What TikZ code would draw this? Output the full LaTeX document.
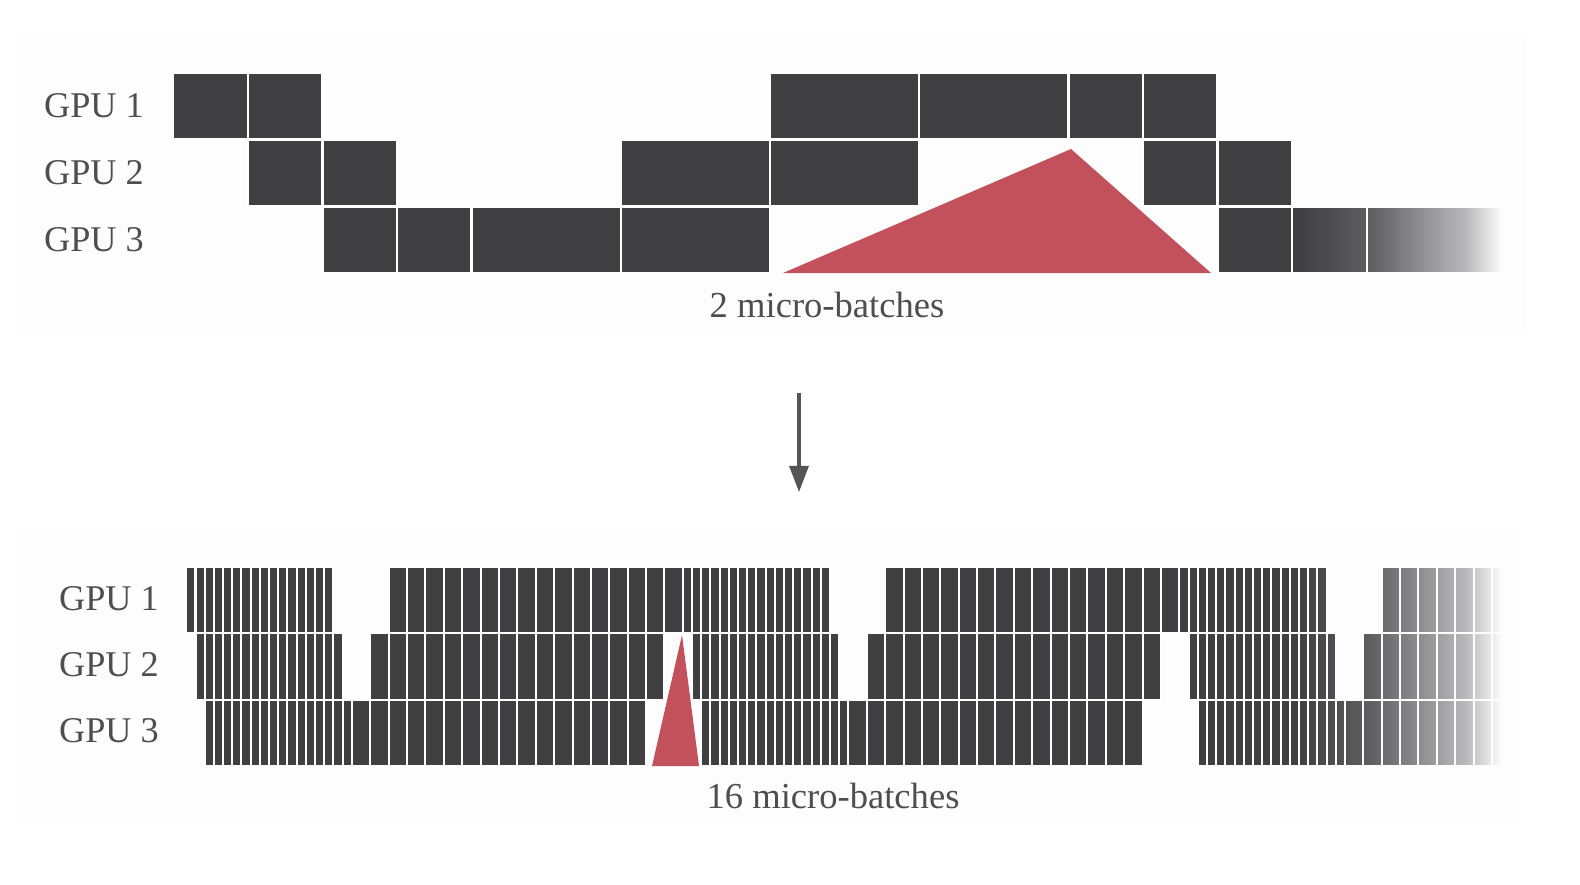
\documentclass[tikz,border=0pt]{standalone}
\usepackage{fontspec}
\setmainfont{Liberation Serif}
\usepackage{tikz}
\usetikzlibrary{arrows.meta,fadings}
\definecolor{taskcolour}{RGB}{64,63,66}
\definecolor{bubblecolour}{RGB}{194,81,91}
\definecolor{panelcolour}{RGB}{253,253,254}
\definecolor{textcolour}{RGB}{78,78,80}
\definecolor{arrowcolour}{RGB}{85,85,85}
\pgfdeclarehorizontalshading{rightfadeshade}{100bp}{color(0bp)=(pgftransparent!100); color(25bp)=(pgftransparent!100); color(42.5bp)=(pgftransparent!84); color(66.5bp)=(pgftransparent!35); color(75bp)=(pgftransparent!0); color(100bp)=(pgftransparent!0)}
\pgfdeclarefading{rightfade}{\pgfuseshading{rightfadeshade}}

\begin{document}
\begin{tikzpicture}[
    x=0.01cm, y=-0.01cm,
    panel/.style={fill=panelcolour},
    task/.style={fill=taskcolour, draw=white, line width=0.024cm},
    slice/.style={fill=taskcolour, draw=white, line width=0.02cm},
    bubble/.style={fill=bubblecolour},
    gpu/.style={font=\fontsize{10.3}{12}\selectfont, text=textcolour, inner sep=0pt},
    caption/.style={font=\fontsize{10.4}{12}\selectfont, text=textcolour, inner sep=0pt},
    arrow/.style={-{Triangle[length=7.4pt, width=5.4pt]}, line width=0.9pt, draw=arrowcolour}
]
\useasboundingbox (0,0) rectangle (1580,884);

% Panels
\fill[panel] (15,35) rectangle (1527,333);
\fill[panel] (15,529) rectangle (1520,822);

% Top schedule (2 micro-batches)
\begin{scope}
\clip (0,0) rectangle (1500,884);
\foreach \c in {0,1} \foreach \s in {0,1,2} \foreach \m in {0,1} {
    \path[task] ({173.2+(12*\c+\s+\m)*74.6}, {72.5+\s*67}) rectangle ++(74.6,67);
    \path[task] ({173.2+(12*\c+8-2*\s+2*\m)*74.6}, {72.5+\s*67}) rectangle ++(149.2,67);
}
\end{scope}

% Bottom schedule (16 micro-batches)
\begin{scope}
\clip (0,0) rectangle (1500,884);
\foreach \c in {0,1,2} \foreach \s in {0,1,2} \foreach \m in {0,...,15} {
    \path[slice] ({186.3+(54*\c+\s+\m)*9.195}, {566.5+\s*66.5}) rectangle ++(9.195,66.5);
    \path[slice] ({186.3+(54*\c+22-2*\s+2*\m)*9.195}, {566.5+\s*66.5}) rectangle ++(18.39,66.5);
}
\end{scope}

% Fade out on the right
\fill[panelcolour, path fading=rightfade] (1297,60) rectangle (1501,290);
\fill[panelcolour, path fading=rightfade] (1297,545) rectangle (1501,785);

% Bubbles
\fill[bubble] (783,273) -- (1071,149) -- (1211,273) -- cycle;
\fill[bubble] (652,766) -- (682,635) -- (699,766) -- cycle;

% Labels
\node[gpu] (top1) at (94,106) {GPU 1};
\node[gpu] (top2) at (94,173) {GPU 2};
\node[gpu] (top3) at (94,240) {GPU 3};
\node[gpu] (bot1) at (109,599) {GPU 1};
\node[gpu] (bot2) at (109,665) {GPU 2};
\node[gpu] (bot3) at (109,731) {GPU 3};
\node[caption] (topcaption) at (827,305) {2 micro-batches};
\node[caption] (botcaption) at (833,796) {16 micro-batches};

% Arrow
\coordinate (arrowstart) at (799,393);
\coordinate (arrowend) at (799,492);
\draw[arrow] (arrowstart) -- (arrowend);

\end{tikzpicture}
\end{document}
